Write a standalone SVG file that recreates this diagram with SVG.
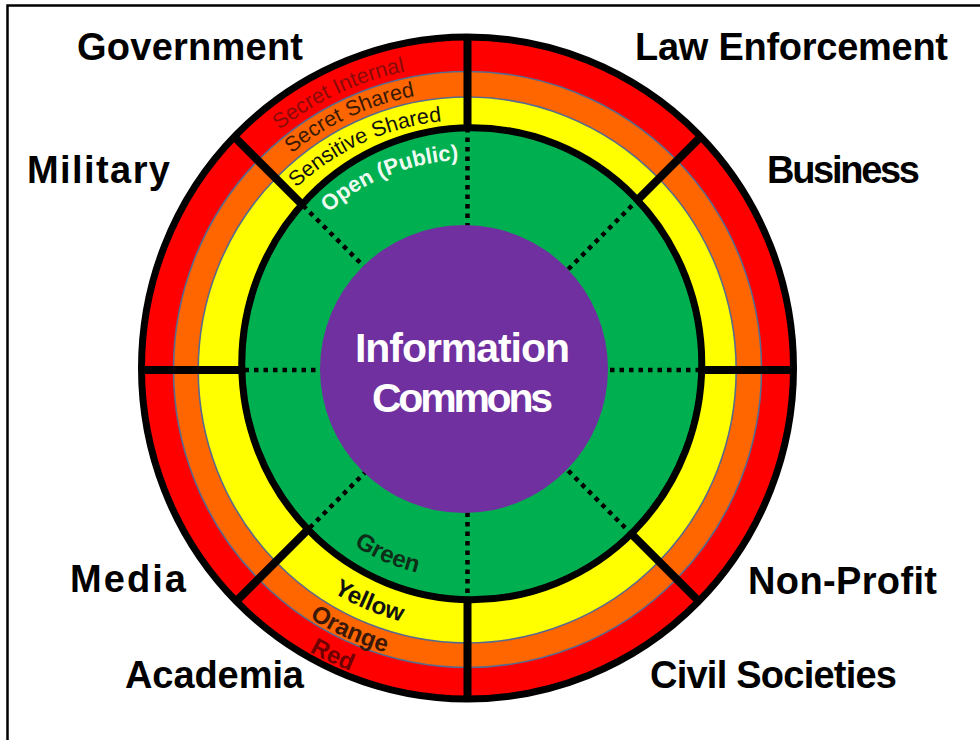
<svg xmlns="http://www.w3.org/2000/svg" width="980" height="740" viewBox="0 0 980 740">
  <defs>
    <style>
      .lbl { font-family: "Liberation Sans", Arial, sans-serif; font-weight: bold; font-size: 38px; fill: #000; text-anchor: middle; }
      .ring { font-family: "Liberation Sans", Arial, sans-serif; font-size: 21.5px; text-anchor: middle; }
      .lvl { font-family: "Liberation Sans", Arial, sans-serif; font-weight: bold; font-size: 24px; text-anchor: middle; }
      .div { stroke: #000; stroke-width: 8; }
      .dot { stroke: #000; stroke-width: 4.5; stroke-dasharray: 4.5 5; }
      .thin { stroke: #5a6a8c; stroke-width: 1.6; }
    </style>
    <clipPath id="clipOuter"><ellipse cx="467.5" cy="368" rx="326" ry="331"/></clipPath>
    <clipPath id="clipGreen"><ellipse cx="471.75" cy="363.75" rx="230" ry="236"/></clipPath>
    <!-- top arcs (clockwise over the top) -->
    <path id="pSI" d="M162.5,370 A305,305 0 0 1 772.5,370" fill="none"/>
    <path id="pSS" d="M188.5,370 A279,279 0 0 1 746.5,370" fill="none"/>
    <path id="pSe" d="M217.5,370 A250,250 0 0 1 717.5,370" fill="none"/>
    <path id="pOp" d="M257.5,370 A210,210 0 0 1 677.5,370" fill="none"/>
    <!-- bottom arcs (left to right under the bottom) -->
    <path id="pGr" d="M258.5,370 A209,209 0 0 0 676.5,370" fill="none"/>
    <path id="pYe" d="M207.5,370 A260,260 0 0 0 727.5,370" fill="none"/>
    <path id="pOr" d="M173.5,370 A294,294 0 0 0 761.5,370" fill="none"/>
    <path id="pRe" d="M144.5,370 A323,323 0 0 0 790.5,370" fill="none"/>
  </defs>

  <rect x="0" y="0" width="980" height="740" fill="#fff"/>
  <rect id="frame" x="7.5" y="5.5" width="990" height="760" fill="none" stroke="#000" stroke-width="2.5"/>

  <g id="rings">
    <ellipse id="red" cx="467.5" cy="368" rx="326" ry="331" fill="#FF0000"/>
    <ellipse id="orange" class="thin" cx="467.5" cy="369.5" rx="294" ry="298" fill="#FF6600"/>
    <ellipse id="yellow" class="thin" cx="467.2" cy="370" rx="269" ry="273" fill="#FFFF00"/>
  </g>

  <g id="dividers" clip-path="url(#clipOuter)">
    <line class="div" x1="467.5" y1="370" x2="467.5" y2="0"/>
    <line class="div" x1="467.5" y1="370" x2="467.5" y2="740"/>
    <line class="div" x1="467.5" y1="370" x2="100" y2="370"/>
    <line class="div" x1="467.5" y1="370" x2="840" y2="370"/>
    <line class="div" x1="467.5" y1="370" x2="97.5" y2="0"/>
    <line class="div" x1="467.5" y1="370" x2="837.5" y2="0"/>
    <line class="div" x1="467.5" y1="370" x2="97.5" y2="740"/>
    <line class="div" x1="467.5" y1="370" x2="837.5" y2="740"/>
  </g>

  <g id="open-area">
    <ellipse cx="471.75" cy="363.75" rx="230" ry="236" fill="#00B050"/>
    <g id="dotted" clip-path="url(#clipGreen)">
      <line class="dot" x1="467.5" y1="370" x2="467.5" y2="120"/>
      <line class="dot" x1="467.5" y1="370" x2="467.5" y2="610"/>
      <line class="dot" x1="467.5" y1="370" x2="230" y2="370"/>
      <line class="dot" x1="467.5" y1="370" x2="710" y2="370"/>
      <line class="dot" x1="467.5" y1="370" x2="290" y2="192.5"/>
      <line class="dot" x1="467.5" y1="370" x2="645" y2="192.5"/>
      <line class="dot" x1="467.5" y1="370" x2="290" y2="547.5"/>
      <line class="dot" x1="467.5" y1="370" x2="645" y2="547.5"/>
    </g>
    <ellipse cx="471.75" cy="363.75" rx="230" ry="236" fill="none" stroke="#000" stroke-width="7"/>
  </g>

  <ellipse id="outer-edge" cx="467.5" cy="368" rx="326" ry="331" fill="none" stroke="#000" stroke-width="7"/>

  <g id="commons">
    <circle cx="464" cy="369" r="144" fill="#7030A0"/>
    <text class="lbl" x="462.5" y="362" style="fill:#fff;font-size:41px" textLength="215">Information</text>
    <text class="lbl" x="462.5" y="412" style="fill:#fff;font-size:41px" textLength="181">Commons</text>
  </g>

  <g id="ring-labels">
    <text class="ring" fill="#8a0a0a"><textPath href="#pSI" startOffset="346">Secret Internal</textPath></text>
    <text class="ring" fill="#3a1a05"><textPath href="#pSS" startOffset="316.5">Secret Shared</textPath></text>
    <text class="ring" fill="#111"><textPath href="#pSe" startOffset="285.4">Sensitive Shared</textPath></text>
    <text class="lvl" fill="#eefbf2" style="font-size:22px"><textPath href="#pOp" startOffset="249.2">Open (Public)</textPath></text>
    <text class="lvl" fill="#0d2e18"><textPath href="#pGr" startOffset="242.6">Green</textPath></text>
    <text class="lvl" fill="#111"><textPath href="#pYe" startOffset="304">Yellow</textPath></text>
    <text class="lvl" fill="#3a1808"><textPath href="#pOr" startOffset="336.6">Orange</textPath></text>
    <text class="lvl" fill="#700000"><textPath href="#pRe" startOffset="364.7">Red</textPath></text>
  </g>

  <g id="sectors">
    <text id="government" class="lbl" x="190" y="60" textLength="226">Government</text>
    <text id="law-enforcement" class="lbl" x="791.5" y="60" textLength="313">Law Enforcement</text>
    <text id="military" class="lbl" x="98.5" y="183" textLength="143">Military</text>
    <text id="business" class="lbl" x="843.5" y="183" textLength="153">Business</text>
    <text id="media" class="lbl" x="128" y="592" textLength="116">Media</text>
    <text id="non-profit" class="lbl" x="842.5" y="594" textLength="189">Non-Profit</text>
    <text id="academia" class="lbl" x="214.5" y="688" textLength="179">Academia</text>
    <text id="civil-societies" class="lbl" x="773.5" y="688" textLength="247">Civil Societies</text>
  </g>
</svg>
